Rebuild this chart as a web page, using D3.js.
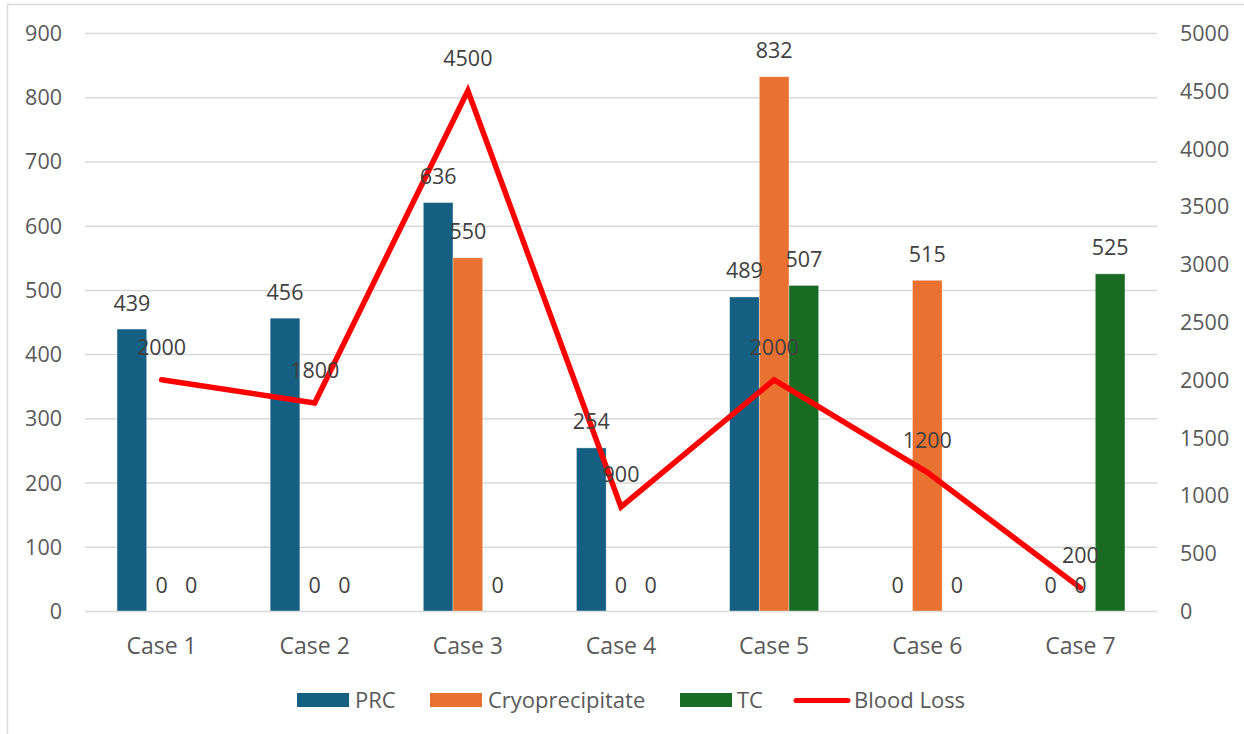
<!DOCTYPE html>
<html>
<head>
<meta charset="utf-8">
<script src="https://cdn.jsdelivr.net/npm/d3@7"></script>
<style>
  html, body { margin: 0; padding: 0; background: #ffffff; }
  svg { display: block; }
  text { font-family: "Open Sans", "Noto Sans", sans-serif; }
</style>
</head>
<body>
<svg id="chart" width="1244" height="734"></svg>
<script>
// ---- data ----
const categories = ["Case 1", "Case 2", "Case 3", "Case 4", "Case 5", "Case 6", "Case 7"];
const prc = [439, 456, 636, 254, 489, 0, 0];
const cryo = [0, 0, 550, 0, 832, 515, 0];
const tc = [0, 0, 0, 0, 507, 0, 525];
const bloodLoss = [2000, 1800, 4500, 900, 2000, 1200, 200];
const leftTicks = [0, 100, 200, 300, 400, 500, 600, 700, 800, 900];
const rightTicks = [0, 500, 1000, 1500, 2000, 2500, 3000, 3500, 4000, 4500, 5000];
const seriesNames = ["PRC", "Cryoprecipitate", "TC", "Blood Loss"];

const barSeries = [
  { name: "PRC", values: prc, color: "#156082" },
  { name: "Cryoprecipitate", values: cryo, color: "#E97132" },
  { name: "TC", values: tc, color: "#196B24" }
];
const lineColor = "#FF0000";

// ---- layout ----
const svg = d3.select("#chart");
const plot = { left: 85, right: 1157, top: 33, bottom: 611 };

// frame
svg.append("rect")
  .attr("x", 7.5).attr("y", 4.5)
  .attr("width", 1300).attr("height", 800)
  .attr("fill", "#ffffff")
  .attr("stroke", "#d9d9d9").attr("stroke-width", 1.5);

const x = d3.scaleBand().domain(categories).range([plot.left, plot.right]).paddingInner(0).paddingOuter(0);
const bw = 29.7;
const xSub = d3.scaleBand().domain(barSeries.map(s => s.name))
  .range([-bw * 1.5, bw * 1.5]);

const yL = d3.scaleLinear().domain([0, 900]).range([plot.bottom, plot.top]);
const yR = d3.scaleLinear().domain([0, 5000]).range([plot.bottom, plot.top]);

// gridlines
svg.append("g").selectAll("line").data(leftTicks).join("line")
  .attr("x1", plot.left).attr("x2", plot.right)
  .attr("y1", d => yL(d) + 0.5).attr("y2", d => yL(d) + 0.5)
  .attr("stroke", "#d9d9d9").attr("stroke-width", 1.5);

// left axis
const axL = svg.append("g").attr("transform", `translate(62,0)`)
  .call(d3.axisLeft(yL).tickValues(leftTicks).tickFormat(d3.format("d")).tickSize(0).tickPadding(0));
axL.select(".domain").remove();
axL.selectAll("text").attr("font-size", 21.5).attr("fill", "#595959")
  .attr("font-family", "'Open Sans', sans-serif").attr("dy", "0.35em");

// right axis
const axR = svg.append("g").attr("transform", `translate(1180,0)`)
  .call(d3.axisRight(yR).tickValues(rightTicks).tickFormat(d3.format("d")).tickSize(0).tickPadding(0));
axR.select(".domain").remove();
axR.selectAll("text").attr("font-size", 21.5).attr("fill", "#595959")
  .attr("font-family", "'Open Sans', sans-serif").attr("dy", "0.35em");

// bottom category axis
const axB = svg.append("g").attr("transform", `translate(0,${plot.bottom})`)
  .call(d3.axisBottom(x).tickSize(0).tickPadding(0));
axB.select(".domain").remove();
axB.selectAll("text").attr("font-size", 23).attr("fill", "#595959")
  .attr("font-family", "'Open Sans', sans-serif")
  .attr("y", 43).attr("dy", 0);

// bars
const barsG = svg.append("g");
barSeries.forEach(s => {
  barsG.selectAll(null).data(s.values.map((v, i) => ({ v, c: categories[i] }))).join("rect")
    .attr("x", d => x(d.c) + x.bandwidth() / 2 + xSub(s.name))
    .attr("width", xSub.bandwidth())
    .attr("y", d => yL(d.v))
    .attr("height", d => yL(0) - yL(d.v))
    .attr("fill", s.color)
    .attr("stroke", "#ffffff").attr("stroke-opacity", 0.5).attr("stroke-width", 0.75);
});

// line
const line = d3.line()
  .x((d, i) => x(categories[i]) + x.bandwidth() / 2)
  .y(d => yR(d));
svg.append("path").datum(bloodLoss)
  .attr("d", line)
  .attr("fill", "none").attr("stroke", lineColor)
  .attr("stroke-width", 5.5).attr("stroke-linejoin", "miter").attr("stroke-linecap", "round");

// bar labels
const labG = svg.append("g");
barSeries.forEach(s => {
  labG.selectAll(null).data(s.values.map((v, i) => ({ v, c: categories[i] }))).join("text")
    .attr("x", d => x(d.c) + x.bandwidth() / 2 + xSub(s.name) + xSub.bandwidth() / 2)
    .attr("y", d => yL(d.v) - 26)
    .attr("dy", "0.35em")
    .attr("text-anchor", "middle")
    .attr("font-size", 21.5).attr("fill", "#404040")
    .text(d => d.v);
});

// line labels
labG.selectAll(null).data(bloodLoss).join("text")
  .attr("x", (d, i) => x(categories[i]) + x.bandwidth() / 2)
  .attr("y", d => yR(d) - 32)
  .attr("dy", "0.35em")
  .attr("text-anchor", "middle")
  .attr("font-size", 21.5).attr("fill", "#404040")
  .text(d => d);

// legend
const legend = svg.append("g");
const legItems = [
  { name: seriesNames[0], color: "#156082", type: "rect", sx: 297, tx: 355 },
  { name: seriesNames[1], color: "#E97132", type: "rect", sx: 430, tx: 488 },
  { name: seriesNames[2], color: "#196B24", type: "rect", sx: 680, tx: 737 },
  { name: seriesNames[3], color: lineColor, type: "line", sx: 794, tx: 854 }
];
legItems.forEach(it => {
  if (it.type === "rect") {
    legend.append("rect").attr("x", it.sx).attr("y", 693).attr("width", 52).attr("height", 14).attr("fill", it.color);
  } else {
    legend.append("line").attr("x1", it.sx + 2).attr("x2", it.sx + 54).attr("y1", 700.5).attr("y2", 700.5)
      .attr("stroke", it.color).attr("stroke-width", 5).attr("stroke-linecap", "round");
  }
  legend.append("text").attr("x", it.tx).attr("y", 700).attr("dy", "0.35em")
    .attr("font-size", 22).attr("fill", "#595959").text(it.name);
});
</script>
</body>
</html>
